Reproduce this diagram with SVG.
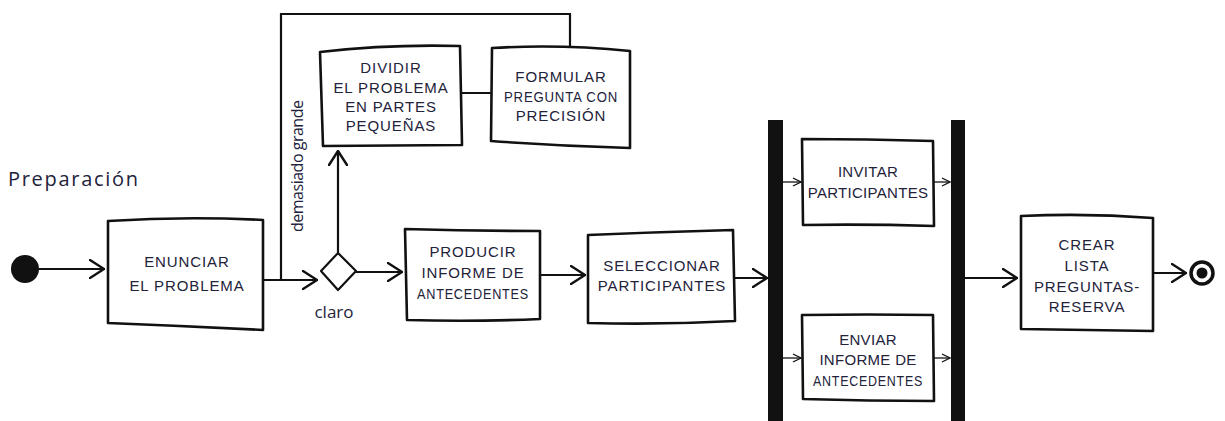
<svg xmlns="http://www.w3.org/2000/svg" width="1225" height="421" viewBox="0 0 1225 421">
<style>
.box{fill:#fff;stroke:#111;stroke-width:2.6;stroke-linejoin:round}
.ln{fill:none;stroke:#111;stroke-width:2.2;stroke-linecap:round}
.thin{fill:none;stroke:#111;stroke-width:1.3}
.t{font-family:"Liberation Sans",Arial,sans-serif;font-size:15px;fill:#22223a;text-anchor:middle;letter-spacing:0.9px}
.lbl{font-family:"Open Sans","Liberation Sans",sans-serif;fill:#22223a}
</style>
<defs>
<marker id="ah" viewBox="0 0 16 20" refX="15" refY="10" markerWidth="16" markerHeight="20" markerUnits="userSpaceOnUse" orient="auto">
<path d="M1,1 L15,10 L1,19" fill="none" stroke="#111" stroke-width="2.4" stroke-linecap="round" stroke-linejoin="round"/>
</marker>
<marker id="as" viewBox="0 0 10 10" refX="9" refY="5" markerWidth="10" markerHeight="10" markerUnits="userSpaceOnUse" orient="auto">
<path d="M1,1 L9,5 L1,9" fill="none" stroke="#111" stroke-width="1.3"/>
</marker>
</defs>
<rect width="1225" height="421" fill="#fff"/>
<text class="lbl" x="8" y="186" font-size="20" textLength="130" lengthAdjust="spacing">Preparación</text>
<g id="connectors">
<line class="ln" x1="38" y1="269" x2="104" y2="269" marker-end="url(#ah)"/>
<line class="ln" x1="263" y1="280" x2="317" y2="280" marker-end="url(#ah)"/>
<polyline class="ln" points="281,280 281,14 570,14 570,46"/>
<line class="ln" x1="338" y1="252" x2="338" y2="151" marker-end="url(#ah)"/>
<line class="ln" x1="462" y1="93" x2="491" y2="93"/>
<line class="ln" x1="356" y1="272" x2="402" y2="272" marker-end="url(#ah)"/>
<line class="ln" x1="540" y1="275" x2="585" y2="275" marker-end="url(#ah)"/>
<line class="ln" x1="735" y1="278" x2="767" y2="278" marker-end="url(#ah)"/>
<line class="thin" x1="783" y1="182" x2="801" y2="182" marker-end="url(#as)"/>
<line class="thin" x1="934" y1="182" x2="950" y2="182" marker-end="url(#as)"/>
<line class="thin" x1="783" y1="358" x2="801" y2="358" marker-end="url(#as)"/>
<line class="thin" x1="934" y1="358" x2="950" y2="358" marker-end="url(#as)"/>
<line class="ln" x1="965" y1="278" x2="1017" y2="278" marker-end="url(#ah)"/>
<line class="ln" x1="1153" y1="273" x2="1186" y2="273" marker-end="url(#ah)"/>
<text class="lbl" font-size="16" textLength="132" lengthAdjust="spacing" transform="translate(303,232) rotate(-90)">demasiado grande</text>
<text class="lbl" x="334" y="318" font-size="17" text-anchor="middle">claro</text>
</g>
<g id="start"><circle cx="25" cy="269" r="14" fill="#111"/></g>
<g id="enunciar">
<path class="box" d="M108,221 Q185,216 263,220 L263,330 Q185,326 108,323 Z"/>
<text class="t" x="187" y="267">ENUNCIAR</text>
<text class="t" x="187" y="291">EL PROBLEMA</text>
</g>
<g id="decision">
<path d="M338,253 L356,271 L338,290 L321,271 Z" fill="#fff" stroke="#111" stroke-width="2.2" stroke-linejoin="round"/>
</g>
<g id="dividir">
<path class="box" d="M320,52 Q390,44 460,46 L462,145 L323,146 Z"/>
<text class="t" x="391" y="73">DIVIDIR</text>
<text class="t" x="391" y="93">EL PROBLEMA</text>
<text class="t" x="391" y="112">EN PARTES</text>
<text class="t" x="391" y="131">PEQUEÑAS</text>
</g>
<g id="formular">
<path class="box" d="M492,48 Q560,44 630,51 L630,148 Q560,146 491,141 Z"/>
<text class="t" x="561" y="82">FORMULAR</text>
<text class="t" x="561" y="102" textLength="114" lengthAdjust="spacingAndGlyphs">PREGUNTA CON</text>
<text class="t" x="561" y="121">PRECISIÓN</text>
</g>
<g id="producir">
<path class="box" d="M405,229 Q472,231 540,231 L540,319 Q472,322 407,320 Z"/>
<text class="t" x="473" y="257">PRODUCIR</text>
<text class="t" x="473" y="278">INFORME DE</text>
<text class="t" x="473" y="299" textLength="112" lengthAdjust="spacingAndGlyphs">ANTECEDENTES</text>
</g>
<g id="seleccionar">
<path class="box" d="M588,235 Q660,232 733,230 L735,321 Q660,325 588,323 Z"/>
<text class="t" x="662" y="271">SELECCIONAR</text>
<text class="t" x="662" y="291">PARTICIPANTES</text>
</g>
<g id="fork"><rect x="768" y="120" width="15" height="301" fill="#111"/></g>
<g id="join"><rect x="951" y="120" width="14" height="301" fill="#111"/></g>
<g id="invitar">
<path class="box" d="M802,139 Q868,139 933,141 L934,226 Q868,224 803,225 Z" stroke-width="2"/>
<text class="t" x="868" y="177" style="letter-spacing:0.3px">INVITAR</text>
<text class="t" x="868" y="198" style="letter-spacing:0.3px">PARTICIPANTES</text>
</g>
<g id="enviar">
<path class="box" d="M802,315 Q868,314 933,315 L934,401 Q868,401 803,399 Z" stroke-width="2"/>
<text class="t" x="868" y="345" style="letter-spacing:0.3px">ENVIAR</text>
<text class="t" x="868" y="365" style="letter-spacing:0.3px">INFORME DE</text>
<text class="t" x="868" y="386" textLength="110" lengthAdjust="spacingAndGlyphs">ANTECEDENTES</text>
</g>
<g id="crear">
<path class="box" d="M1021,216 Q1087,213 1153,218 L1153,331 Q1087,330 1021,329 Z"/>
<text class="t" x="1087" y="250">CREAR</text>
<text class="t" x="1087" y="271">LISTA</text>
<text class="t" x="1087" y="292">PREGUNTAS-</text>
<text class="t" x="1087" y="312">RESERVA</text>
</g>
<g id="end">
<circle cx="1202" cy="273" r="11" fill="#fff" stroke="#111" stroke-width="3.5"/>
<circle cx="1202" cy="273" r="5.5" fill="#111"/>
</g>
</svg>
